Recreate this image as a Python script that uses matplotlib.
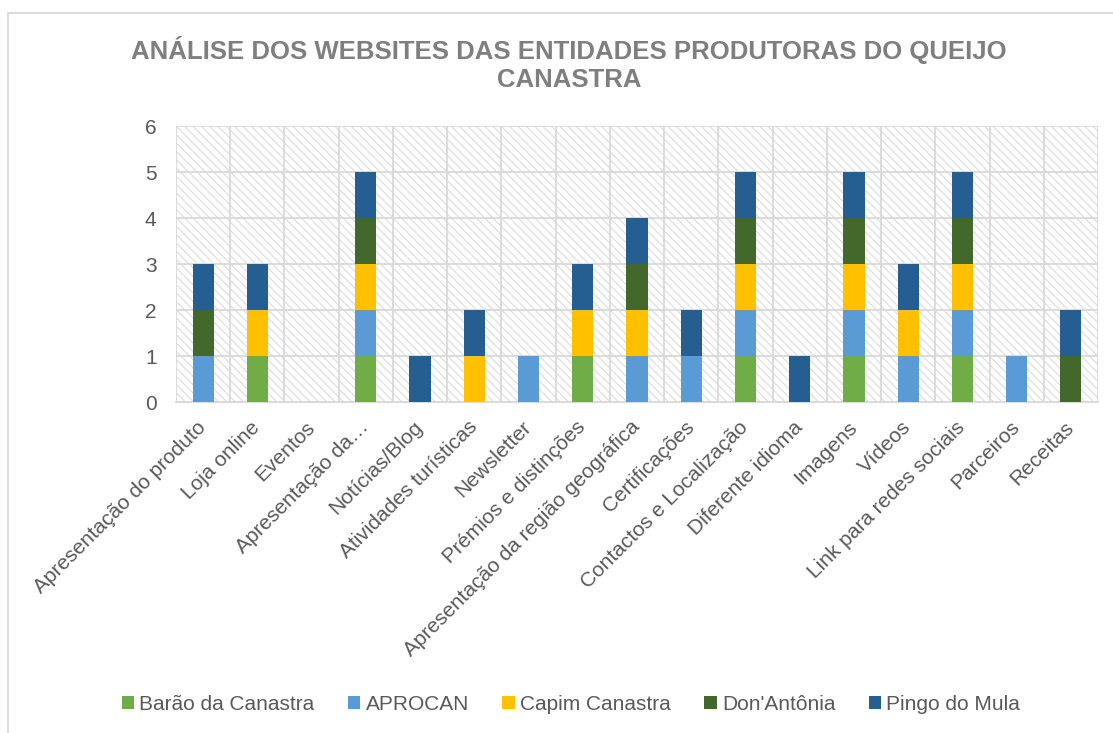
import matplotlib
matplotlib.use("Agg")
import matplotlib.pyplot as plt
from matplotlib.patches import Rectangle
import numpy as np

plt.rcParams['font.family'] = ['Liberation Sans', 'DejaVu Sans']
plt.rcParams['hatch.linewidth'] = 0.8

categories = ["Apresentação do produto", "Loja online", "Eventos", "Apresentação da…",
              "Notícias/Blog", "Atividades turísticas", "Newsletter", "Prémios e distinções",
              "Apresentação da região geográfica", "Certificações", "Contactos e Localização",
              "Diferente idioma", "Imagens", "Vídeos", "Link para redes sociais",
              "Parceiros", "Receitas"]

series_names = ["Barão da Canastra", "APROCAN", "Capim Canastra", "Don'Antônia", "Pingo do Mula"]
barao     = [0, 1, 0, 1, 0, 0, 0, 1, 0, 0, 1, 0, 1, 0, 1, 0, 0]
aprocan   = [1, 0, 0, 1, 0, 0, 1, 0, 1, 1, 1, 0, 1, 1, 1, 1, 0]
capim     = [0, 1, 0, 1, 0, 1, 0, 1, 1, 0, 1, 0, 1, 1, 1, 0, 0]
donantonia = [1, 0, 0, 1, 0, 0, 0, 0, 1, 0, 1, 0, 1, 0, 1, 0, 1]
pingo     = [1, 1, 0, 1, 1, 1, 0, 1, 1, 1, 1, 1, 1, 1, 1, 0, 1]
colors = ["#70AD47", "#5B9BD5", "#FFC000", "#43682B", "#255E91"]

W, H = 1113, 733
fig = plt.figure(figsize=(W / 100, H / 100), dpi=100)
left, right, top, bottom = 176, 1098, 126, 402
ax = fig.add_axes([left / W, 1 - bottom / H, (right - left) / W, (bottom - top) / H])

# chart border (left and top visible)
fig.add_artist(Rectangle((8 / W, -0.1), 1.2, 1.1 - 13 / H, transform=fig.transFigure,
                         facecolor='none', edgecolor='#D9D9D9', linewidth=1.3))

# hatched plot background
ax.add_patch(Rectangle((0, 0), 1, 1, transform=ax.transAxes, facecolor='white',
                       hatch='\\\\\\\\', edgecolor='#DCDCDC', linewidth=0, zorder=0))

x = np.arange(len(categories))
data = [barao, aprocan, capim, donantonia, pingo]
bottoms = np.zeros(len(categories))
handles = []
for name, vals, c in zip(series_names, data, colors):
    b = ax.bar(x, vals, bottom=bottoms, width=0.39, color=c, label=name, zorder=3)
    handles.append(b)
    bottoms += np.array(vals)

ax.set_xlim(-0.5, len(categories) - 0.5)
ax.set_ylim(0, 6)
ax.set_yticks(range(0, 7))
ax.set_xticks(x)
ax.set_xticks(np.arange(-0.5, len(categories)), minor=True)
ax.grid(True, which='major', axis='y', color='#D9D9D9', linewidth=1.3, zorder=1)
ax.grid(True, which='minor', axis='x', color='#D9D9D9', linewidth=1.3, zorder=1)
ax.grid(False, which='major', axis='x')
for s in ax.spines.values():
    s.set_visible(False)
ax.spines['bottom'].set_visible(True)
ax.spines['bottom'].set_color('#D9D9D9')
ax.spines['bottom'].set_linewidth(1.3)
ax.tick_params(axis='both', which='both', length=0, colors='#595959')
ax.tick_params(axis='y', labelsize=15, pad=14)
ax.set_xticklabels(categories, rotation=45, ha='right', va='center',
                   rotation_mode='anchor', fontsize=15, color='#595959')
ax.tick_params(axis='x', pad=16)
ax.set_axisbelow(True)

fig.text(569 / W, 1 - 64 / H, "ANÁLISE DOS WEBSITES DAS ENTIDADES PRODUTORAS DO QUEIJO\nCANASTRA",
         ha='center', va='center', fontsize=18.5, fontweight='bold', color='#7F7F7F',
         linespacing=1.25)

fig.legend(handles=handles, labels=series_names, loc='center', ncol=5,
           bbox_to_anchor=(571 / W, 1 - 704 / H), frameon=False, fontsize=15,
           labelcolor='#595959', handlelength=0.6, handleheight=0.6,
           handletextpad=0.25, columnspacing=1.6)

fig.savefig("out.png", dpi=100)
